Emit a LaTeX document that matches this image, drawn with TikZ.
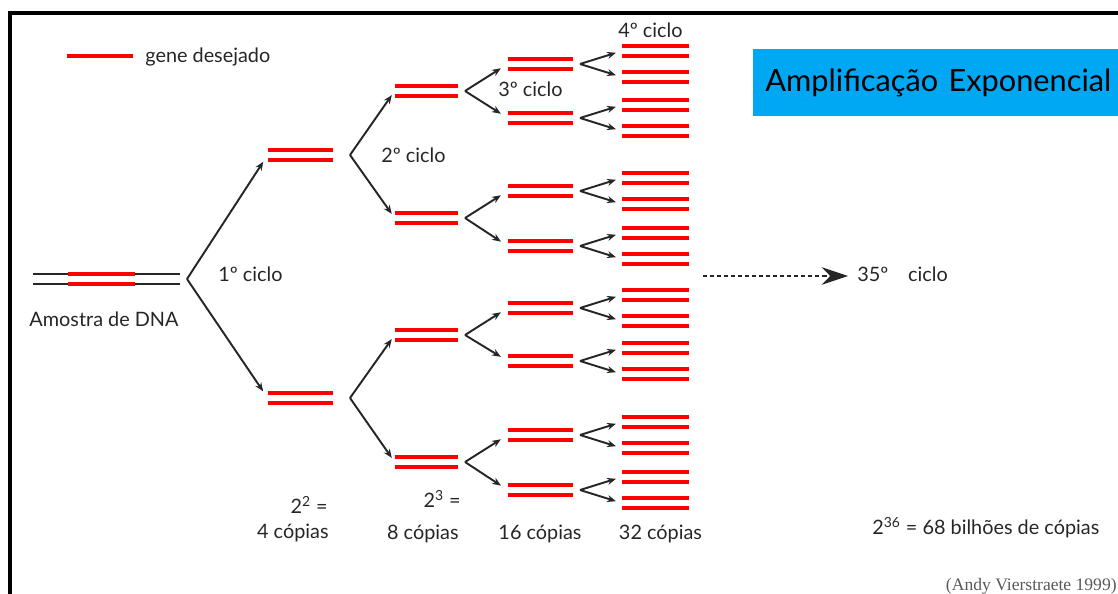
\documentclass[tikz,border=0pt]{standalone}
\usepackage{fontspec}
\setmainfont{Lato}
\newfontfamily\citefont{Liberation Serif}
\usetikzlibrary{arrows.meta, positioning}

\definecolor{genered}{RGB}{255,0,0}
\definecolor{titleblue}{RGB}{0,168,243}
\definecolor{txtgray}{RGB}{38,38,38}

\tikzstyle{dsdna} = [rectangle, minimum width=1.3cm, minimum height=0.2cm, inner sep=0pt]
\tikzstyle{gene} = [genered, line width=2.2pt]
\tikzstyle{strand} = [black!85, line width=1.1pt]
\tikzstyle{arrow} = [black!85, line width=1.1pt, -{Stealth[length=5pt,width=4pt]}]
\tikzstyle{dasharrow} = [black!85, line width=1.1pt, dash pattern=on 2.3pt off 1.7pt, -{Stealth[length=15pt,width=10pt]}]
\tikzstyle{lbl} = [text=txtgray, font=\fontsize{11.3}{14}\selectfont, inner sep=0pt]
\tikzstyle{titlebox} = [fill=titleblue, text=black, font=\fontsize{17.5}{20}\selectfont, text width=7.6cm, align=left, inner xsep=6.8pt, minimum height=1.34cm]

\begin{document}
\begin{tikzpicture}[x=0.02cm, y=-0.02cm]
\useasboundingbox (0,0) rectangle (1118,594);

\draw[line width=2.3pt] (10,13) rectangle (1140,620);

% legend
\node (leg) [lbl, anchor=base west] at (145,63) {gene desejado};
\draw[gene] (67,56) -- (133,56);

\node (title) [titlebox, anchor=west] at (753,82.5) {Amplificação Exponencial};

% DNA sample
\node (dna) [dsdna, minimum width=2.94cm] at (106.5,279) {};
\draw[strand] (dna.north west) -- (dna.north east) (dna.south west) -- (dna.south east);
\draw[gene] ([xshift=0.7cm]dna.north west) -- ([xshift=2.04cm]dna.north west)
  ([xshift=0.7cm]dna.south west) -- ([xshift=2.04cm]dna.south west);
\node (sample) [lbl, anchor=base] at (104,326) {Amostra de DNA};
\coordinate (v1) at (187,279);

% copies, cycle by cycle
\foreach \y [count=\i] in {155,398} {
  \node (g2-\i) [dsdna] at (300.5,\y) {};
  \draw[gene] (g2-\i.north west) -- (g2-\i.north east) (g2-\i.south west) -- (g2-\i.south east);
  \coordinate (v2-\i) at (350,\y);
}
\foreach \y [count=\i] in {91,218,335,462} {
  \node (g3-\i) [dsdna, minimum width=1.26cm] at (426.5,\y) {};
  \draw[gene] (g3-\i.north west) -- (g3-\i.north east) (g3-\i.south west) -- (g3-\i.south east);
  \coordinate (v3-\i) at (465,\y);
}
\foreach \y [count=\i] in {64,118,191,246,308,361,435,490} {
  \node (g4-\i) [dsdna] at (540.5,\y) {};
  \draw[gene] (g4-\i.north west) -- (g4-\i.north east) (g4-\i.south west) -- (g4-\i.south east);
  \coordinate (v4-\i) at (580,\y);
  \node (g5u-\i) [dsdna, minimum width=1.34cm] at (655.5,\y-13) {};
  \node (g5d-\i) [dsdna, minimum width=1.34cm] at (655.5,\y+13) {};
  \draw[gene] (g5u-\i.north west) -- (g5u-\i.north east) (g5u-\i.south west) -- (g5u-\i.south east);
  \draw[gene] (g5d-\i.north west) -- (g5d-\i.north east) (g5d-\i.south west) -- (g5d-\i.south east);
  \draw[arrow, shorten >=0.12cm] (v4-\i) -- (g5u-\i.west);
  \draw[arrow, shorten >=0.12cm] (v4-\i) -- (g5d-\i.west);
}

\draw[arrow, shorten >=0.16cm] (v1) -- (g2-1.west);
\draw[arrow, shorten >=0.16cm] (v1) -- (g2-2.west);
\foreach \i in {1,2} {
  \pgfmathtruncatemacro\ca{2*\i-1}
  \pgfmathtruncatemacro\cb{2*\i}
  \draw[arrow, shorten >=0.1cm] (v2-\i) -- (g3-\ca.west);
  \draw[arrow, shorten >=0.1cm] (v2-\i) -- (g3-\cb.west);
}
\foreach \i in {1,...,4} {
  \pgfmathtruncatemacro\ca{2*\i-1}
  \pgfmathtruncatemacro\cb{2*\i}
  \draw[arrow, shorten >=0.16cm] (v3-\i) -- (g4-\ca.west);
  \draw[arrow, shorten >=0.16cm] (v3-\i) -- (g4-\cb.west);
}

% cycle labels
\node (c1) [lbl, anchor=base west] at (218,282) {1º ciclo};
\node (c2) [lbl, anchor=base west] at (381,163) {2º ciclo};
\node (c3) [lbl, anchor=base west] at (498,97) {3º ciclo};
\node (c4) [lbl, anchor=base west] at (618,38) {4º ciclo};

\node (c35) [lbl, anchor=base west] at (857,282) {35º\quad ciclo};
\coordinate (dstart) at (703,276);
\draw[dasharrow, shorten >=0.18cm] (dstart) -- (dstart -| c35.west);

% copy counts
\node (p2) [lbl, anchor=base east] at (328,513) {2\textsuperscript{2} =};
\node (n4) [lbl, anchor=base east] at (329,538) {4 cópias};
\node (p3) [lbl, anchor=base east] at (461,507) {2\textsuperscript{3} =};
\node (n8) [lbl, anchor=base east] at (459,539) {8 cópias};
\node (n16) [lbl, anchor=base] at (540,539) {16 cópias};
\node (n32) [lbl, anchor=base] at (660.5,539) {32 cópias};
\node (n36) [lbl, anchor=base west] at (872,534) {2\textsuperscript{36} = 68 bilhões de cópias};

\node (cite) [anchor=base east, inner sep=0pt, text=black!65, font=\citefont\fontsize{10}{12}\selectfont] at (1117,590) {(Andy Vierstraete 1999)};

\end{tikzpicture}
\end{document}
